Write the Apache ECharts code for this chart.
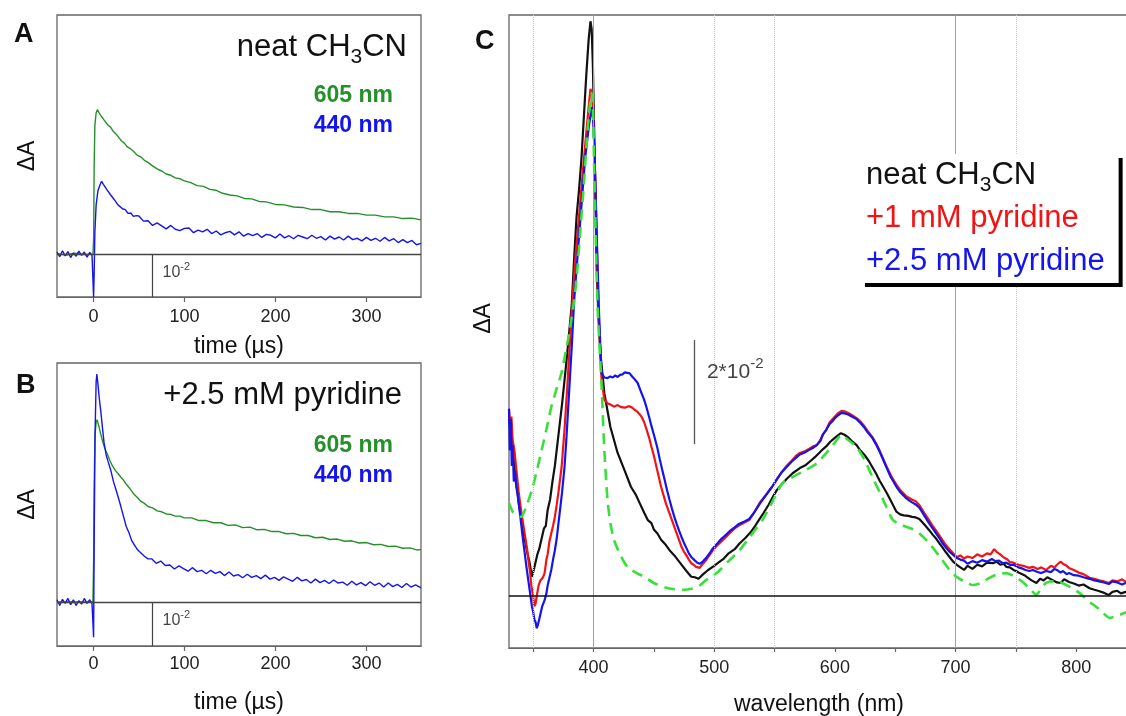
<!DOCTYPE html>
<html><head><meta charset="utf-8">
<script src="https://cdn.jsdelivr.net/npm/echarts@6/dist/echarts.min.js"></script>
<style>html,body{margin:0;padding:0;background:#fff}#c{width:1126px;height:716px}</style>
</head><body><div id="c"></div><script>
// ---- DATA (ΔA in units of 10^-2) ----
const TIME_TICKS = [0, 100, 200, 300];
const WL_LABELS = [400, 500, 600, 700, 800];
const WL_TICKS = [350, 400, 450, 500, 550, 600, 650, 700, 750, 800];
const WL_GRID_SOLID = [400, 700];
const WL_GRID_DOTTED = [350, 500, 550, 750];

const A_605 = [[-40,0.01],[-30,-0.02],[-20,0.02],[-10,-0.01],[-0.5,0],[0.3,0.4],[0.8,2.0],[1.6,3.0],[3,3.3],[4.4,3.37],[6,3.31],[8,3.24],[10,3.18],[13,3.09],[16,3.01],[19,2.96],[22,2.86],[25,2.80],[28,2.72],[31,2.64],[34,2.59],[37,2.51],[40,2.47],[44,2.40],[48,2.31],[52,2.27],[56,2.19],[60,2.14],[65,2.06],[70,1.99],[75,1.94],[80,1.87],[85,1.84],[90,1.78],[95,1.76],[100,1.71],[107,1.67],[114,1.60],[121,1.58],[128,1.51],[135,1.49],[142,1.42],[150,1.38],[158,1.36],[166,1.30],[174,1.29],[182,1.23],[190,1.22],[200,1.16],[210,1.15],[220,1.10],[230,1.09],[240,1.04],[250,1.04],[260,0.99],[270,0.99],[280,0.95],[290,0.95],[300,0.91],[310,0.91],[320,0.87],[330,0.87],[340,0.83],[350,0.84],[360,0.80]];
const A_440 = [[-40,0.05],[-37,-0.06],[-34,0.08],[-31,-0.04],[-28,0.06],[-25,-0.08],[-22,0.03],[-19,-0.05],[-16,0.07],[-13,-0.03],[-10,0.05],[-7,-0.07],[-4,0.04],[-1.5,-0.03],[-0.3,0.0],[0.2,-1.0],[0.8,-0.5],[1.6,0.5],[3,1.15],[5,1.48],[7,1.6],[9,1.70],[11,1.63],[13,1.60],[15,1.50],[17,1.47],[19,1.38],[21,1.36],[23,1.27],[25,1.24],[27,1.15],[29,1.14],[32,1.06],[35,1.04],[38,0.95],[41,0.96],[44,0.88],[47,0.90],[50,0.89],[55,0.77],[60,0.78],[65,0.67],[70,0.73],[75,0.66],[80,0.59],[85,0.67],[90,0.58],[95,0.55],[100,0.60],[105,0.61],[110,0.50],[115,0.56],[120,0.52],[125,0.58],[130,0.48],[135,0.54],[140,0.45],[145,0.50],[150,0.53],[155,0.45],[160,0.52],[165,0.42],[170,0.48],[175,0.43],[180,0.48],[185,0.39],[190,0.46],[195,0.44],[200,0.38],[205,0.47],[210,0.38],[215,0.43],[220,0.36],[225,0.44],[230,0.40],[235,0.36],[240,0.44],[245,0.37],[250,0.41],[255,0.33],[260,0.42],[265,0.35],[270,0.40],[275,0.33],[280,0.42],[285,0.34],[290,0.37],[295,0.31],[300,0.39],[305,0.32],[310,0.37],[315,0.30],[320,0.39],[325,0.31],[330,0.36],[335,0.27],[340,0.34],[345,0.27],[350,0.32],[355,0.22],[360,0.25]];
const B_605 = [[-40,0.0],[-20,0.0],[-0.5,0.0],[0.3,1.0],[0.8,2.6],[1.8,3.8],[3,4.08],[4,4.14],[5,4.07],[6.5,3.95],[8,3.82],[10,3.66],[12,3.52],[14,3.42],[16,3.33],[18,3.22],[21,3.09],[24,2.99],[27,2.92],[30,2.84],[33,2.77],[36,2.68],[40,2.58],[44,2.46],[48,2.38],[52,2.29],[56,2.24],[60,2.17],[65,2.14],[70,2.07],[75,2.05],[80,2.00],[85,1.99],[90,1.95],[95,1.95],[100,1.91],[108,1.91],[116,1.85],[124,1.85],[132,1.80],[140,1.80],[148,1.74],[156,1.75],[164,1.69],[172,1.70],[180,1.64],[188,1.65],[196,1.60],[204,1.60],[212,1.55],[220,1.56],[228,1.51],[236,1.51],[244,1.46],[252,1.47],[260,1.42],[268,1.43],[276,1.38],[284,1.39],[292,1.34],[300,1.35],[308,1.30],[316,1.31],[324,1.26],[332,1.27],[340,1.22],[348,1.23],[356,1.18],[360,1.19]];
const B_440 = [[-40,0.05],[-37,-0.08],[-34,0.06],[-31,-0.03],[-28,0.08],[-25,-0.06],[-22,0.05],[-19,-0.08],[-16,0.03],[-13,-0.05],[-10,0.08],[-7,-0.03],[-4,0.05],[-1.5,-0.04],[-0.3,0.0],[0.2,-0.8],[0.8,1.2],[1.8,3.8],[3,5.0],[3.8,5.18],[5,4.95],[6.5,4.62],[8,4.36],[10,3.95],[11.7,3.62],[14,3.34],[16,3.2],[19,3.0],[22,2.74],[25,2.54],[28,2.33],[30,2.18],[33,1.95],[36,1.72],[39,1.58],[42,1.40],[45,1.30],[48,1.20],[52,1.12],[56,1.04],[60,0.98],[64,0.98],[69,0.88],[74,0.93],[79,0.83],[84,0.84],[89,0.75],[94,0.82],[99,0.76],[104,0.70],[109,0.78],[114,0.69],[119,0.72],[124,0.64],[129,0.72],[134,0.65],[139,0.69],[144,0.60],[149,0.68],[154,0.59],[159,0.62],[164,0.55],[169,0.63],[174,0.56],[179,0.60],[184,0.53],[189,0.61],[194,0.52],[199,0.56],[204,0.49],[209,0.57],[214,0.52],[219,0.47],[224,0.56],[229,0.48],[234,0.51],[239,0.43],[244,0.52],[249,0.44],[254,0.49],[259,0.42],[264,0.50],[269,0.43],[274,0.45],[279,0.38],[284,0.47],[289,0.39],[294,0.44],[299,0.37],[304,0.46],[309,0.38],[314,0.43],[319,0.34],[324,0.43],[329,0.35],[334,0.40],[339,0.33],[344,0.42],[349,0.34],[354,0.39],[360,0.32]];

const C_NEAT = [[330,3.4],[332,3.0],[334,2.6],[336,2.2],[338,1.8],[340,1.5],[343,1.1],[345,0.85],[347,0.65],[349,0.37],[350.5,0.5],[352,0.65],[353.5,0.8],[355,0.9],[357,1.1],[359,1.3],[360.5,1.35],[362,1.65],[364,1.85],[366,2.2],[368,2.5],[370,2.9],[372,3.3],[374,3.7],[376,4.15],[378,4.6],[380,5.1],[382,5.6],[384,6.5],[386,7.3],[388,7.8],[390,8.4],[392,9.2],[394,10.0],[396,10.7],[397.5,11.05],[398.5,10.9],[399.5,10.2],[400.5,9.0],[401.5,7.8],[402.5,6.4],[404,5.4],[406,4.6],[409,3.9],[414,3.25],[420,2.75],[426,2.4],[431,2.1],[435,1.95],[438,1.8],[442,1.6],[445,1.46],[448,1.40],[450,1.28],[453,1.2],[456,1.08],[460,0.98],[463,0.88],[467,0.78],[470,0.69],[474,0.57],[477,0.48],[481,0.37],[484,0.36],[487,0.33],[490,0.40],[495,0.50],[500,0.58],[504,0.65],[508,0.72],[512,0.82],[517,0.90],[521,1.01],[526,1.12],[530,1.22],[534,1.35],[537,1.46],[541,1.6],[545,1.75],[549,1.92],[552,2.04],[556,2.15],[560,2.25],[565,2.36],[571,2.46],[576,2.52],[580,2.6],[584,2.68],[587,2.75],[590,2.82],[593,2.88],[596,2.96],[598,3.0],[602,3.08],[605,3.13],[608,3.1],[611,3.05],[614,2.98],[618,2.9],[621,2.8],[625,2.7],[628,2.6],[631,2.48],[634,2.36],[637,2.22],[640,2.1],[643,1.98],[647,1.8],[651,1.62],[654,1.57],[657,1.55],[661,1.54],[664,1.52],[667,1.51],[670,1.48],[674,1.38],[678,1.27],[681,1.18],[684,1.1],[687,1.0],[689,0.94],[692,0.84],[695,0.75],[698,0.66],[701,0.6],[704,0.55],[707,0.5],[710,0.58],[714,0.52],[718,0.6],[722,0.57],[726,0.64],[731,0.63],[734,0.66],[737,0.6],[740,0.62],[742,0.56],[745,0.55],[748,0.5],[751,0.47],[753,0.44],[757,0.4],[760,0.35],[763,0.3],[767,0.25],[770,0.33],[773,0.3],[776,0.36],[780,0.31],[784,0.26],[787,0.25],[790,0.32],[794,0.27],[798,0.24],[802,0.2],[806,0.22],[811,0.15],[815,0.12],[818,0.1],[822,0.07],[825,0.04],[827,0.02],[830,0.08],[834,0.1],[837,0.05],[841,0.08],[843,0.1]];
const C_1MM = [[330,3.6],[331,3.3],[332,3.45],[333,3.0],[334.5,2.8],[336,2.45],[338,2.0],[340,1.65],[341,1.5],[343,1.2],[345,0.9],[346,0.7],[347.5,0.45],[348.5,0.2],[350,0.0],[351,-0.2],[352,-0.15],[353,0.0],[354.5,0.2],[356,0.3],[358,0.35],[359.5,0.44],[361,0.7],[362,0.8],[363.5,1.05],[365,1.2],[366.5,1.35],[368,1.52],[369.5,1.75],[371,2.0],[373.6,2.48],[376,3.2],[378.5,4.1],[380.5,4.9],[382.6,5.69],[385,6.5],[388,7.3],[391,8.1],[394,8.9],[396,9.4],[397.5,9.75],[399,9.6],[400.5,8.8],[402,7.5],[403.5,6.0],[405,5.0],[406.6,4.2],[409,3.77],[412,3.7],[414,3.68],[417,3.64],[420,3.67],[423,3.63],[426,3.62],[429,3.65],[431.5,3.63],[434,3.58],[436,3.55],[438,3.5],[440,3.44],[442,3.34],[444,3.2],[446,3.05],[448,2.87],[450,2.7],[452,2.5],[454,2.3],[456,2.1],[458,1.94],[460,1.78],[462,1.65],[465,1.46],[467,1.33],[469,1.2],[471,1.07],[473,0.94],[475,0.85],[477,0.78],[479,0.7],[481,0.63],[483,0.6],[485,0.56],[488,0.54],[490,0.6],[493,0.68],[496,0.78],[499,0.88],[502,0.96],[506,1.05],[510,1.14],[513,1.21],[517,1.3],[520,1.35],[524,1.4],[529,1.46],[533,1.6],[538,1.8],[543,1.95],[548,2.1],[552,2.25],[556,2.38],[560,2.5],[565,2.62],[568,2.7],[571,2.75],[575,2.78],[578,2.82],[582,2.88],[585,2.9],[588,3.0],[590,3.1],[593,3.2],[595.5,3.33],[598,3.4],[600,3.45],[603,3.52],[605.5,3.56],[608,3.55],[611,3.52],[614,3.48],[618,3.42],[621,3.36],[624,3.28],[627,3.18],[631,3.06],[634,2.94],[637,2.8],[640,2.64],[643,2.48],[646,2.34],[648,2.25],[651,2.14],[654,2.04],[657,1.97],[659,1.92],[662,1.88],[664,1.85],[667,1.82],[670,1.75],[674,1.6],[678,1.46],[681,1.35],[684,1.25],[687,1.15],[689,1.08],[692,0.98],[695,0.9],[698,0.82],[701,0.75],[704,0.78],[707,0.72],[710,0.76],[714,0.73],[718,0.8],[722,0.76],[726,0.82],[729,0.8],[732,0.9],[734,0.85],[737,0.8],[740,0.74],[743,0.7],[745,0.65],[748,0.64],[752,0.6],[756,0.58],[761,0.54],[764,0.56],[768,0.52],[771,0.55],[775,0.5],[779,0.58],[782,0.55],[784,0.6],[787,0.66],[789,0.62],[792,0.58],[794,0.54],[798,0.5],[802,0.45],[806,0.42],[811,0.35],[815,0.33],[819,0.3],[823,0.28],[827,0.25],[830,0.3],[834,0.28],[838,0.32],[841,0.27],[843,0.3]];
const C_25MM = [[330,3.6],[330.7,2.8],[331.5,3.4],[332.3,2.5],[333,2.9],[334,2.2],[335,2.4],[336,2.1],[337,1.98],[338.5,1.7],[340,1.4],[341.5,1.1],[343,0.83],[344.5,0.55],[346,0.3],[347.5,0.05],[349,-0.2],[350,-0.3],[351,-0.45],[352,-0.5],[353,-0.62],[354,-0.55],[355,-0.45],[356.5,-0.3],[357.5,-0.2],[359.5,-0.08],[361,0.05],[362,0.2],[363.5,0.35],[365,0.5],[366.5,0.7],[368,0.88],[369.5,1.1],[371,1.4],[372.5,1.7],[374,2.0],[376,2.48],[377.5,3.0],[379,3.6],[380.5,4.2],[382,4.8],[384,5.69],[387,6.6],[390,7.5],[393,8.4],[396,9.0],[398.5,9.4],[400,9.1],[401.5,8.0],[403,6.7],[404.5,5.5],[406,4.6],[406.6,4.29],[409,4.2],[411.6,4.19],[414,4.22],[416,4.2],[418,4.24],[420,4.21],[422,4.25],[424,4.26],[426,4.3],[428,4.29],[430,4.28],[432,4.22],[434,4.17],[436.5,4.1],[439,3.95],[442,3.77],[444,3.62],[446,3.45],[448,3.27],[450.5,3.06],[453,2.84],[455,2.62],[457,2.42],[459,2.23],[461,2.03],[463,1.85],[465,1.68],[467,1.52],[469,1.38],[471,1.25],[473,1.13],[475,1.02],[477,0.92],[479,0.82],[481,0.75],[483.7,0.69],[486,0.64],[488,0.62],[490,0.65],[494,0.75],[497,0.85],[499,0.92],[503,1.02],[506,1.1],[510,1.18],[513,1.25],[517,1.32],[520,1.38],[524,1.42],[529,1.48],[533,1.6],[538,1.78],[543,1.94],[548,2.1],[552,2.24],[556,2.38],[560,2.48],[565,2.6],[568,2.66],[571,2.72],[575,2.76],[578,2.8],[582,2.85],[585,2.9],[588,2.98],[590,3.1],[593,3.2],[595.5,3.3],[598,3.36],[600,3.42],[603,3.48],[605.5,3.52],[608,3.51],[611,3.49],[614,3.45],[618,3.4],[621,3.33],[624,3.25],[627,3.15],[631,3.04],[634,2.92],[637,2.78],[640,2.62],[643,2.46],[646,2.3],[648,2.22],[651,2.1],[654,2.0],[657,1.93],[659,1.88],[662,1.83],[664,1.8],[667,1.76],[670,1.7],[674,1.55],[678,1.4],[681,1.3],[684,1.2],[687,1.1],[689,1.02],[692,0.93],[695,0.85],[698,0.79],[701,0.73],[704,0.7],[707,0.68],[710,0.62],[714,0.67],[718,0.64],[722,0.69],[726,0.66],[730,0.71],[733,0.67],[736,0.68],[739,0.63],[742,0.64],[745,0.6],[748,0.6],[752,0.55],[755,0.53],[758,0.5],[761,0.48],[764,0.5],[768,0.46],[771,0.44],[775,0.48],[779,0.46],[782,0.52],[784,0.5],[787,0.45],[789,0.48],[792,0.42],[794,0.44],[798,0.4],[802,0.39],[806,0.36],[811,0.33],[815,0.3],[819,0.28],[823,0.26],[827,0.23],[830,0.28],[834,0.26],[838,0.22],[841,0.25],[843,0.27]];
const C_DASHED = [[330,1.79],[333,1.62],[336,1.55],[340,1.52],[344,1.7],[349,2.04],[353,2.4],[357,2.8],[361,3.2],[365,3.63],[369,3.95],[373.5,4.29],[377,4.7],[380,5.06],[384,5.69],[386,6.1],[389,7.0],[392,7.9],[394,8.6],[396,9.2],[398.5,9.67],[399.5,9.45],[400.5,8.3],[401.5,7.3],[402.5,6.3],[403.5,5.5],[405,4.8],[406.6,4.1],[409,2.8],[411.6,1.85],[414,1.4],[417,1.08],[422,0.8],[428,0.56],[435,0.45],[442,0.37],[450,0.25],[459,0.17],[467,0.13],[475,0.12],[481,0.14],[486,0.17],[493,0.3],[502,0.44],[511,0.65],[521,0.88],[530,1.15],[540,1.46],[548,1.8],[556.6,2.17],[566,2.3],[576,2.42],[585,2.55],[593,2.75],[600,2.95],[605.5,3.1],[611,3.0],[618,2.87],[625,2.6],[631,2.29],[637,2.0],[642.7,1.71],[648,1.46],[654,1.38],[659,1.33],[665,1.28],[670,1.2],[678,1.02],[689,0.69],[695,0.5],[700.7,0.37],[707,0.28],[714,0.21],[721,0.25],[728,0.35],[735,0.42],[742,0.44],[749,0.37],[755.6,0.27],[761,0.15],[767,0.02],[771,0.15],[775,0.25],[781,0.28],[786,0.27],[795,0.17],[802.6,0.06],[810,-0.1],[816.7,-0.21],[822,-0.32],[827.5,-0.42],[834,-0.38],[843,-0.3]];

// scale bars (value units) and their labels
const SCALE_AB = {t: 64.5, from: 0, to: -1, labelT: 76, labelV: -0.42};
const SCALE_C = {wl: 483.7, from: 2.92, to: 4.92, labelWl: 494, labelV: 4.31};

const NAMES_AB = ['605 nm', '440 nm'];
const NAMES_C = ['neat CH3CN', '+1 mM pyridine', '+2.5 mM pyridine'];

// ---- STYLE ----
const FONT = '"Liberation Sans", Arial, Helvetica, sans-serif';
const GREEN = '#24902a', BLUE = '#1414ee', RED = '#f01414', BLACK = '#111111', LIME = '#3ae03a';
const FRAME = '#666';

const chart = echarts.init(document.getElementById('c'), null, {renderer: 'canvas'});

const subRich = {
  a: {fontSize: 31, lineHeight: 42, fontWeight: 'normal', fontFamily: FONT},
  s: {fontSize: 21, lineHeight: 20, verticalAlign: 'bottom', fontWeight: 'normal', fontFamily: FONT}
};
function chem(name) {
  if (name === 'neat CH3CN') return '{a|neat CH}{s|3}{a|CN}';
  return '{a|' + name + '}';
}

function timeX(grid, gap, margin) {
  return {
    gridIndex: grid, type: 'value', min: -40, max: 360,
    axisLine: {show: true, onZero: false, lineStyle: {color: FRAME, width: 1.2}},
    axisTick: {show: true, customValues: TIME_TICKS, length: 5, lineStyle: {color: FRAME, width: 1.2}},
    axisLabel: {customValues: TIME_TICKS, margin: margin, fontSize: 18, color: '#222', fontFamily: FONT},
    splitLine: {show: false},
    name: 'time (µs)', nameLocation: 'middle', nameGap: gap,
    nameTextStyle: {fontSize: 23, color: '#111', fontFamily: FONT}
  };
}
function dAY(grid, max, gap, pad) {
  return {
    gridIndex: grid, type: 'value', min: -1, max: max,
    axisLine: {show: false, onZero: false}, axisTick: {show: false}, axisLabel: {show: false}, splitLine: {show: false},
    name: 'ΔA', nameLocation: 'middle', nameGap: gap,
    nameTextStyle: {fontSize: 23, color: '#111', fontFamily: FONT, padding: pad || 0}
  };
}
function trace(name, data, color, xi, width) {
  return {type: 'line', name: name, data: data, xAxisIndex: xi, yAxisIndex: xi,
    symbol: 'none', showSymbol: false, lineStyle: {color: color, width: width}, itemStyle: {color: color},
    emphasis: {disabled: true}};
}
function guides(xi, extraLines) {
  return {type: 'line', data: [], xAxisIndex: xi, yAxisIndex: xi, silent: true, z: 1,
    markLine: {silent: true, symbol: 'none', label: {show: false}, animation: false, data: extraLines}};
}
function supLabel(xi, point, main, sup, fs, sfs, lh) {
  return {type: 'scatter', data: [point], xAxisIndex: xi, yAxisIndex: xi, symbolSize: 0, silent: true, z: 5,
    label: {show: true, position: [0, 0], align: 'left', verticalAlign: 'middle',
      formatter: '{a|' + main + '}{s|' + sup + '}',
      rich: {a: {fontSize: fs, lineHeight: lh, color: '#111', fontFamily: FONT},
             s: {fontSize: sfs, lineHeight: sfs, verticalAlign: 'top', color: '#111', fontFamily: FONT}}}};
}
const abLines = [
  {yAxis: 0, lineStyle: {color: '#444', width: 1.3, type: 'solid'}},
  [{coord: [SCALE_AB.t, SCALE_AB.from], lineStyle: {color: '#444', width: 1.2, type: 'solid'}}, {coord: [SCALE_AB.t, SCALE_AB.to]}]
];
const cLines = WL_GRID_SOLID.map(v => ({xAxis: v, lineStyle: {color: '#a0a0a0', width: 1, type: 'solid'}}))
  .concat(WL_GRID_DOTTED.map(v => ({xAxis: v, lineStyle: {color: '#c8c8c8', width: 1, type: 'dotted'}})))
  .concat([
    {yAxis: 0, lineStyle: {color: BLACK, width: 1.6, type: 'solid'}},
    [{coord: [SCALE_C.wl, SCALE_C.from], lineStyle: {color: '#555', width: 1.3, type: 'solid'}}, {coord: [SCALE_C.wl, SCALE_C.to]}]
  ]);
const hiddenIcon = {icon: 'rect', itemWidth: 0, itemStyle: {opacity: 0, borderWidth: 0}, lineStyle: {opacity: 0}};

const option = {
  animation: false,
  backgroundColor: '#fff',
  textStyle: {fontFamily: FONT},
  grid: [
    {left: 57, top: 15, width: 364, height: 282, show: true, borderColor: FRAME, borderWidth: 1.3, containLabel: false, outerBoundsMode: 'none'},
    {left: 57, top: 363, width: 364, height: 283, show: true, borderColor: FRAME, borderWidth: 1.3, containLabel: false, outerBoundsMode: 'none'},
    {left: 509, top: 15, width: 620, height: 633, show: true, borderColor: FRAME, borderWidth: 1.3, containLabel: false, outerBoundsMode: 'none'}
  ],
  xAxis: [
    timeX(0, 38, 11),
    timeX(1, 45, 9),
    {gridIndex: 2, type: 'value', min: 330, max: 843.7,
     axisLine: {show: true, onZero: false, lineStyle: {color: FRAME, width: 1.2}},
     axisTick: {show: true, customValues: WL_TICKS, length: 4, lineStyle: {color: FRAME, width: 1.2}},
     axisLabel: {customValues: WL_LABELS, margin: 11, fontSize: 18, color: '#222', fontFamily: FONT},
     splitLine: {show: false},
     name: 'wavelength (nm)', nameLocation: 'middle', nameGap: 45,
     nameTextStyle: {fontSize: 23, color: '#111', fontFamily: FONT}}
  ],
  yAxis: [dAY(0, 5.58, 18), dAY(1, 5.43, 18), dAY(2, 11.17, 14, [0, 0, 0, 26])],
  title: [
    {text: 'A', left: 14, top: 21, padding: 0, textStyle: {fontSize: 27, fontWeight: 'bold', color: '#111', fontFamily: FONT}},
    {text: 'B', left: 16, top: 372, padding: 0, textStyle: {fontSize: 27, fontWeight: 'bold', color: '#111', fontFamily: FONT}},
    {text: 'C', left: 475, top: 28, padding: 0, textStyle: {fontSize: 27, fontWeight: 'bold', color: '#111', fontFamily: FONT}},
    {text: chem('neat CH3CN'), right: 719, top: 26, padding: 0, textStyle: {color: '#111', fontWeight: 'normal', rich: subRich}},
    {text: chem('+2.5 mM pyridine'), right: 724, top: 374, padding: 0, textStyle: {color: '#111', fontWeight: 'normal', rich: subRich}}
  ],
  legend: [
    Object.assign({data: [{name: NAMES_AB[0], textStyle: {color: GREEN}}, {name: NAMES_AB[1], textStyle: {color: BLUE}}],
     orient: 'vertical', right: 733, top: 81, align: 'left', itemHeight: 30, itemGap: 0, padding: 0, z: 10,
     selectedMode: false, textStyle: {fontSize: 23, fontWeight: 'bold', lineHeight: 30, fontFamily: FONT}}, hiddenIcon),
    Object.assign({data: [{name: NAMES_AB[0], textStyle: {color: GREEN}}, {name: NAMES_AB[1], textStyle: {color: BLUE}}],
     orient: 'vertical', right: 733, top: 431, align: 'left', itemHeight: 30, itemGap: 0, padding: 0, z: 10,
     selectedMode: false, textStyle: {fontSize: 23, fontWeight: 'bold', lineHeight: 30, fontFamily: FONT}}, hiddenIcon),
    Object.assign({data: [{name: NAMES_C[0], textStyle: {color: BLACK}}, {name: NAMES_C[1], textStyle: {color: RED}}, {name: NAMES_C[2], textStyle: {color: BLUE}}],
     orient: 'vertical', left: 861, top: 154, align: 'left', itemHeight: 42, itemGap: 1,
     padding: [0, 14, 1, 0], selectedMode: false, z: 20,
     backgroundColor: '#fff', shadowColor: '#000', shadowBlur: 0, shadowOffsetX: 4, shadowOffsetY: 4,
     formatter: chem, textStyle: {rich: subRich, fontSize: 31, lineHeight: 42, fontFamily: FONT}}, hiddenIcon)
  ],
  series: [
    Object.assign(trace(NAMES_AB[0], A_605, GREEN, 0, 1.4), {markLine: {silent: true, symbol: 'none', label: {show: false}, data: abLines}}),
    trace(NAMES_AB[1], A_440, BLUE, 0, 1.4),
    supLabel(0, [SCALE_AB.labelT, SCALE_AB.labelV], '10', '-2', 16, 11, 22),
    Object.assign(trace(NAMES_AB[0], B_605, GREEN, 1, 1.4), {markLine: {silent: true, symbol: 'none', label: {show: false}, data: abLines}}),
    trace(NAMES_AB[1], B_440, BLUE, 1, 1.4),
    supLabel(1, [SCALE_AB.labelT, SCALE_AB.labelV], '10', '-2', 16, 11, 22),
    guides(2, cLines),
    trace(NAMES_C[0], C_NEAT, BLACK, 2, 2.2),
    trace(NAMES_C[1], C_1MM, RED, 2, 2.2),
    trace(NAMES_C[2], C_25MM, BLUE, 2, 2.2),
    Object.assign(trace('dashed reference spectrum', C_DASHED, LIME, 2, 2.6), {smooth: 0.2, lineStyle: {color: LIME, width: 2.6, type: [11, 7]}}),
    supLabel(2, [SCALE_C.labelWl, SCALE_C.labelV], '2*10', '-2', 21, 15, 30)
  ]
};
chart.setOption(option);
</script></body></html>
